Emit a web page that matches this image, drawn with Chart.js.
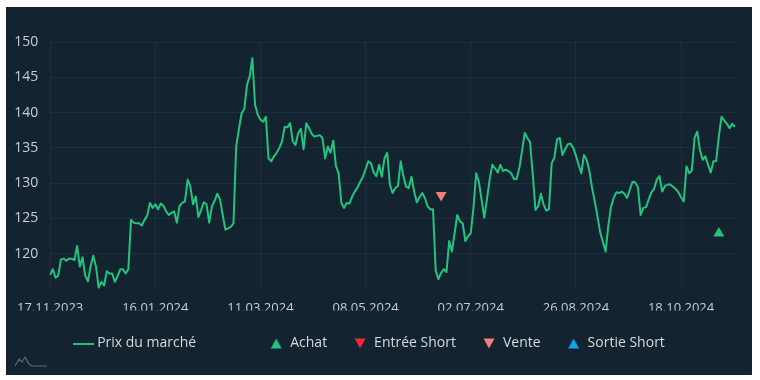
<!DOCTYPE html>
<html>
<head>
<meta charset="utf-8">
<script src="https://cdn.jsdelivr.net/npm/chart.js@4.4.1/dist/chart.umd.min.js"></script>
<style>
  html, body { margin: 0; padding: 0; background: #ffffff; }
  #wrap { position: absolute; left: 6px; top: 7px; width: 746px; height: 368px; background: #13232f; }
  #c { display: block; }
  #logo { position: absolute; left: 8px; top: 346px; }
</style>
</head>
<body>
<div id="wrap">
  <canvas id="c" width="746" height="368"></canvas>
  <svg id="logo" width="34" height="16" viewBox="0 0 34 16">
    <path d="M1 13 L5 6 L8 9 L11 4 L15 11 L18 13 L33 13" fill="none" stroke="#5d6a74" stroke-width="1.2" stroke-linejoin="round"/>
  </svg>
</div>
<script>
// ---- data ----
const tickLabels = ['17.11.2023', '16.01.2024', '11.03.2024', '08.05.2024', '02.07.2024', '26.08.2024', '18.10.2024'];
const TICK_STEP = 39;

const prices = [
  117.0, 117.8, 116.6, 116.9, 119.2, 119.3, 119.0, 119.3, 119.3, 119.1,
  121.1, 118.2, 119.5, 116.9, 116.1, 118.2, 119.7, 118.2, 115.2, 116.0,
  115.5, 117.5, 117.2, 117.2, 116.0, 116.8, 117.8, 117.8, 117.2, 117.8,
  124.8, 124.4, 124.3, 124.3, 124.0, 124.8, 125.4, 127.2, 126.5, 127.0,
  126.3, 127.1, 126.8, 126.0, 125.5, 125.8, 126.0, 124.4, 126.8, 127.2,
  127.4, 130.5, 129.5, 127.0, 128.1, 125.2, 126.2, 127.3, 127.0, 124.4,
  126.7, 127.5, 128.5, 127.7, 125.5, 123.4, 123.6, 123.8, 124.3, 135.2,
  137.6, 139.9, 140.5, 143.9, 145.1, 147.7, 141.1, 139.7, 139.0, 138.7,
  139.4, 133.5, 133.1, 133.8, 134.3, 135.0, 135.9, 138.0, 137.9, 138.5,
  135.9, 135.4, 137.1, 137.7, 134.8, 138.5, 137.8, 137.0, 136.6, 136.7,
  136.8, 136.4, 133.5, 135.2, 134.3, 136.0, 132.4, 131.4, 127.2, 126.5,
  127.2, 127.1, 128.1, 128.8, 129.4, 130.2, 130.9, 132.0, 133.1, 132.8,
  131.5, 131.0, 132.6, 130.9, 133.5, 134.3, 129.8, 128.6, 129.3, 129.6,
  133.1, 131.0, 129.5, 129.3, 130.9, 128.8, 127.3, 128.0, 128.6, 127.9,
  126.7, 126.3, 126.3, 117.6, 116.4, 117.3, 117.8, 117.4, 121.8, 120.3,
  122.9, 125.5, 124.6, 124.3, 121.8, 122.5, 122.9, 126.5, 131.4, 130.2,
  127.7, 125.1, 127.7, 130.5, 132.6, 132.1, 131.5, 132.6, 131.7, 131.9,
  131.7, 131.4, 130.6, 130.6, 132.1, 134.5, 137.1, 136.4, 135.8, 131.2,
  126.2, 126.7, 128.5, 127.0, 126.1, 126.3, 132.8, 133.6, 136.2, 136.4,
  134.0, 134.8, 135.5, 135.6, 135.0, 133.9, 132.6, 131.4, 134.0, 133.3,
  131.7, 129.3, 127.4, 125.3, 123.0, 121.7, 120.3, 123.9, 126.6, 127.9,
  128.7, 128.6, 128.8, 128.5, 127.9, 129.1, 130.2, 130.1, 129.4, 125.5,
  126.5, 126.6, 127.7, 128.7, 129.2, 130.5, 131.0, 128.8, 129.6, 129.8,
  129.8, 129.5, 129.2, 128.7, 128.0, 127.4, 132.4, 131.4, 131.8, 136.4,
  137.3, 134.7, 133.3, 133.8, 132.6, 131.5, 133.1, 133.1, 136.6, 139.4,
  138.9, 138.4, 137.8, 138.4, 138.0
];

// signals: index in the price series + signal level
const achat = [{ i: 248, v: 122.9 }];
const entreeShort = [];
const vente = [{ i: 145, v: 128.3 }];
const sortieShort = [];

const seriesNames = ['Prix du marché', 'Achat', 'Entrée Short', 'Vente', 'Sortie Short'];

// ---- styling ----
const GREEN = '#22c47f';
const RED = '#ec2a3c';
const SALMON = '#f27d7b';
const BLUE = '#1aa3ea';
const GRID = 'rgba(255,255,255,0.055)';
const TEXT = '#c9ced3';

const categories = prices.map((_, i) => i);
const toSeries = sig => categories.map(i => { const s = sig.find(p => p.i === i); return s ? s.v : null; });

function triIcon(color, down) {
  const c = document.createElement('canvas');
  c.width = 12; c.height = 11;
  const g = c.getContext('2d');
  g.fillStyle = color;
  g.beginPath();
  if (down) { g.moveTo(0.5, 0.5); g.lineTo(11.5, 0.5); g.lineTo(6, 10.5); }
  else { g.moveTo(6, 0.5); g.lineTo(11.5, 10.5); g.lineTo(0.5, 10.5); }
  g.closePath(); g.fill();
  return c;
}
function lineIcon(color) {
  const c = document.createElement('canvas');
  c.width = 21; c.height = 2;
  const g = c.getContext('2d');
  g.fillStyle = color; g.fillRect(0, 0, 21, 2);
  return c;
}
function blankIcon() { const c = document.createElement('canvas'); c.width = 1; c.height = 1; return c; }
const legendIcons = [lineIcon(GREEN), triIcon(GREEN, false), triIcon(RED, true), triIcon(SALMON, true), triIcon(BLUE, false)];

Chart.defaults.font.family = "'Open Sans', sans-serif";

const sigDataset = (label, sig, color, down) => ({
  label, data: toSeries(sig), showLine: false,
  pointStyle: 'triangle', pointRotation: down ? 180 : 0,
  pointRadius: 6.3, pointHoverRadius: 6.3,
  backgroundColor: color, borderColor: color, borderWidth: 0
});

new Chart(document.getElementById('c'), {
  type: 'line',
  data: {
    labels: categories,
    datasets: [
      { label: seriesNames[0], data: prices, borderColor: GREEN, backgroundColor: GREEN,
        borderWidth: 2, pointRadius: 0, pointStyle: 'line', tension: 0, borderJoinStyle: 'round' },
      sigDataset(seriesNames[1], achat, GREEN, false),
      sigDataset(seriesNames[2], entreeShort, RED, true),
      sigDataset(seriesNames[3], vente, SALMON, true),
      sigDataset(seriesNames[4], sortieShort, BLUE, false)
    ]
  },
  options: {
    responsive: false,
    devicePixelRatio: 1,
    animation: false,
    layout: { padding: { left: 0, right: 17, top: 35, bottom: 14.5 } },
    plugins: {
      tooltip: { enabled: false },
      legend: {
        position: 'bottom',
        onClick: null,
        labels: {
          usePointStyle: true,
          color: '#d6d9dd',
          padding: 26,
          font: { size: 14 },
          generateLabels(chart) {
            const items = Chart.defaults.plugins.legend.labels.generateLabels(chart);
            items.forEach((it, k) => { it.pointStyle = legendIcons[k]; it.rotation = 0; it.fontColor = '#d6d9dd'; });
            items.splice(1, 0, { text: '', pointStyle: blankIcon(), fillStyle: 'rgba(0,0,0,0)',
              strokeStyle: 'rgba(0,0,0,0)', lineWidth: 0, hidden: false, fontColor: '#d6d9dd' });
            return items;
          }
        }
      }
    },
    scales: {
      x: {
        type: 'category',
        offset: false,
        afterFit(s) { s.height = 21.5; },
        border: { display: false },
        grid: { drawTicks: false, color: ctx => (ctx.index % TICK_STEP === 0 ? GRID : 'rgba(0,0,0,0)') },
        ticks: {
          autoSkip: false, maxRotation: 0, minRotation: 0, padding: 11,
          color: TEXT, font: { size: 13 },
          callback: (v, i) => (i % TICK_STEP === 0 ? tickLabels[i / TICK_STEP] : '')
        }
      },
      y: {
        min: 115, max: 150,
        afterFit(s) { s.width = 43.3; },
        border: { display: false },
        grid: { drawTicks: false, color: ctx => (ctx.tick && ctx.tick.value === 115 ? 'rgba(0,0,0,0)' : GRID) },
        ticks: {
          stepSize: 5, padding: 12, color: TEXT, font: { size: 14 },
          callback: v => (v === 115 ? '' : String(v))
        }
      }
    }
  }
});
</script>
</body>
</html>
